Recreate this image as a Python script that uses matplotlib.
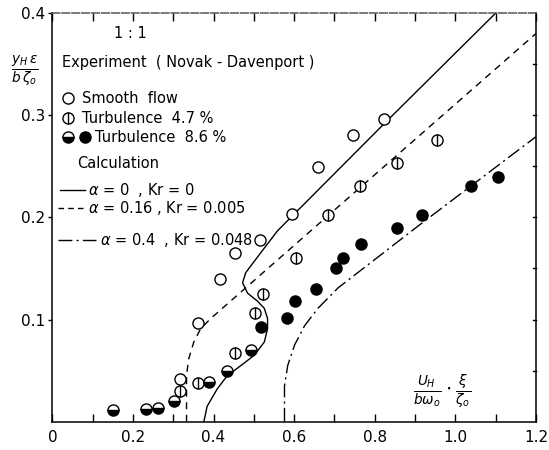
import matplotlib
matplotlib.use("Agg")
import matplotlib.pyplot as plt

# experiment (Novak - Davenport)
smooth_x = [0.318, 0.362, 0.415, 0.453, 0.515, 0.595, 0.659, 0.747, 0.824]
smooth_y = [0.042, 0.097, 0.140, 0.165, 0.178, 0.203, 0.249, 0.281, 0.296]

turb47_x = [0.318, 0.362, 0.453, 0.503, 0.522, 0.605, 0.684, 0.763, 0.855, 0.955]
turb47_y = [0.030, 0.038, 0.067, 0.106, 0.125, 0.160, 0.202, 0.231, 0.253, 0.276]

turb86_half_x = [0.151, 0.232, 0.262, 0.302, 0.388, 0.434, 0.494]
turb86_half_y = [0.011, 0.0126, 0.013, 0.020, 0.039, 0.050, 0.070]

turb86_full_x = [0.518, 0.583, 0.603, 0.655, 0.705, 0.720, 0.767, 0.855, 0.918, 1.040, 1.105]
turb86_full_y = [0.093, 0.102, 0.118, 0.130, 0.150, 0.160, 0.174, 0.190, 0.202, 0.231, 0.240]

# calculation
calc0_x = [0.376, 0.384, 0.409, 0.434, 0.468, 0.501, 0.526, 0.534, 0.534, 0.526,
           0.509, 0.484, 0.472, 0.480, 0.501, 0.526, 0.559, 0.824, 1.100]
calc0_y = [0.0, 0.015, 0.032, 0.045, 0.055, 0.065, 0.078, 0.091, 0.101, 0.111,
           0.118, 0.126, 0.136, 0.146, 0.157, 0.170, 0.187, 0.292, 0.400]

calc16_x = [0.333, 0.333, 0.338, 0.351, 0.368, 0.393, 0.763, 1.2]
calc16_y = [0.0, 0.045, 0.061, 0.078, 0.091, 0.101, 0.229, 0.380]

calc4_x = [0.576, 0.576, 0.584, 0.601, 0.626, 0.659, 0.709, 0.909, 1.2]
calc4_y = [0.0, 0.035, 0.055, 0.075, 0.094, 0.111, 0.131, 0.192, 0.279]

xticks = [0, 0.2, 0.4, 0.6, 0.8, 1.0, 1.2]
xtick_labels = ["0", "0.2", "0.4", "0.6", "0.8", "1.0", "1.2"]
yticks = [0.1, 0.2, 0.3, 0.4]
ytick_labels = ["0.1", "0.2", "0.3", "0.4"]

plt.rcParams["font.family"] = "DejaVu Sans"
fig = plt.figure(figsize=(5.49, 4.5), dpi=100)
ax = fig.add_axes([0.0953, 0.0629, 0.881, 0.908])
ax.set_xlim(0, 1.2)
ax.set_ylim(0, 0.4)

ms = 8
k = "black"
# curves
ax.plot(calc0_x, calc0_y, color=k, lw=1.0)
ax.plot(calc16_x, calc16_y, color=k, lw=1.0, dashes=(5, 4))
ax.plot(calc4_x, calc4_y, color=k, lw=1.0, dashes=(10, 3, 1.5, 3))

# points
ax.plot(smooth_x, smooth_y, "o", ms=ms, mfc="white", mec=k, mew=1.0)
ax.plot(turb47_x, turb47_y, "o", ms=ms, mfc="white", mec=k, mew=1.0)
ax.plot(turb47_x, turb47_y, "|", ms=ms, mec=k, mew=1.0)
ax.plot(turb86_half_x, turb86_half_y, "o", ms=ms, fillstyle="bottom",
        mfc=k, mfcalt="white", mec=k, mew=1.0)
ax.plot(turb86_full_x, turb86_full_y, "o", ms=ms, mfc=k, mec=k, mew=1.0)

# ticks and frame
ax.set_xticks(xticks)
ax.set_xticklabels(xtick_labels, fontsize=11)
ax.set_xticks([0.1, 0.3, 0.5, 0.7, 0.9, 1.1], minor=True)
ax.set_yticks(yticks)
ax.set_yticklabels(ytick_labels, fontsize=11)
ax.tick_params(axis="x", which="both", direction="in", top=True, length=6, width=1)
ax.tick_params(axis="x", which="major", pad=6)
ax.tick_params(axis="y", which="both", direction="out", left=True, length=3, width=1, pad=2)
for s in ax.spines.values():
    s.set_linewidth(1.1)
ax.spines["top"].set_linestyle((0, (5, 1.5)))
ax.spines["top"].set_color("#555555")
for yv in [0.05, 0.1, 0.15, 0.2, 0.25, 0.3, 0.35]:
    ax.plot([1.193, 1.2], [yv, yv], color=k, lw=1, clip_on=False)

# legend block drawn as text
T = ax.transAxes
fs = 10.5
ax.text(0.161, 0.951, "1 : 1", transform=T, fontsize=fs, ha="center", va="center")
ax.text(0.020, 0.880, "Experiment  ( Novak - Davenport )", transform=T, fontsize=fs, va="center")
ax.plot([0.032], [0.792], "o", ms=ms, mfc="white", mec=k, mew=1.0, transform=T, clip_on=False)
ax.text(0.061, 0.792, "Smooth  flow", transform=T, fontsize=fs, va="center")
ax.plot([0.032], [0.743], "o", ms=ms, mfc="white", mec=k, mew=1.0, transform=T, clip_on=False)
ax.plot([0.032], [0.743], "|", ms=ms, mec=k, mew=1.0, transform=T, clip_on=False)
ax.text(0.061, 0.743, "Turbulence  4.7 %", transform=T, fontsize=fs, va="center")
ax.plot([0.032], [0.696], "o", ms=ms, fillstyle="bottom", mfc=k, mfcalt="white",
        mec=k, mew=1.0, transform=T, clip_on=False)
ax.plot([0.068], [0.696], "o", ms=ms, mfc=k, mec=k, transform=T, clip_on=False)
ax.text(0.088, 0.696, "Turbulence  8.6 %", transform=T, fontsize=fs, va="center")
ax.text(0.051, 0.633, "Calculation", transform=T, fontsize=fs, va="center")
ax.plot([0.016, 0.068], [0.567, 0.567], color=k, lw=1.0, transform=T)
ax.text(0.074, 0.567, r"$\alpha$ = 0  , Kr = 0", transform=T, fontsize=fs, va="center")
ax.plot([0.012, 0.068], [0.522, 0.522], color=k, lw=1.0, dashes=(4, 3), transform=T)
ax.text(0.074, 0.522, r"$\alpha$ = 0.16 , Kr = 0.005", transform=T, fontsize=fs, va="center")
ax.plot([0.012, 0.090], [0.444, 0.444], color=k, lw=1.0, dashes=(10, 3, 1.5, 3), transform=T)
ax.text(0.099, 0.444, r"$\alpha$ = 0.4  , Kr = 0.048", transform=T, fontsize=fs, va="center")

# axis labels
fig.text(0.0455, 0.844, r"$\frac{y_H\,\varepsilon}{b\,\zeta_o}$", fontsize=14, ha="center", va="center")
ax.text(0.806, 0.072, r"$\frac{U_H}{b\omega_o}\cdot\frac{\xi}{\zeta_o}$", transform=T,
        fontsize=14, ha="center", va="center")

fig.savefig("out.png", dpi=100)
